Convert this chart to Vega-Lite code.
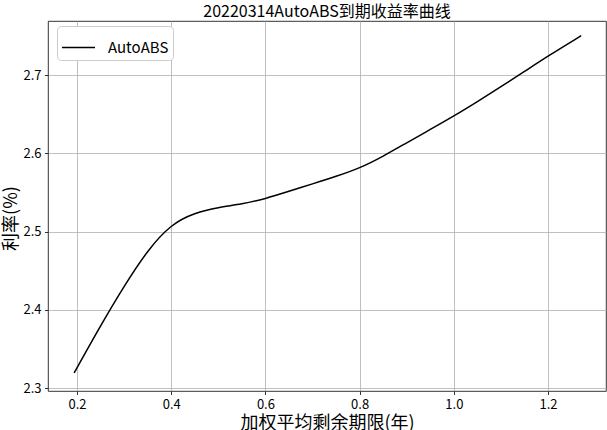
{
  "$schema": "https://vega.github.io/schema/vega-lite/v6.json",
  "width": 558,
  "height": 370,
  "autosize": "none",
  "padding": {"left": 48, "top": 21, "right": 1, "bottom": 39},
  "background": "white",
  "title": {
    "text": "20220314AutoABS到期收益率曲线",
    "font": "Noto Sans CJK SC",
    "fontSize": 16,
    "fontWeight": "normal",
    "color": "black",
    "anchor": "middle",
    "frame": "group",
    "baseline": "middle",
    "offset": 0,
    "dy": 7
  },
  "config": {
    "view": {"stroke": "black", "strokeWidth": 0.8},
    "axis": {
      "labelFont": "Noto Sans CJK SC",
      "titleFont": "Noto Sans CJK SC",
      "labelColor": "black",
      "titleColor": "black",
      "titleFontWeight": "normal",
      "labelFontSize": 13,
      "titleFontSize": 18,
      "gridColor": "#b0b0b0",
      "gridWidth": 0.8,
      "gridOpacity": 1,
      "domain": false,
      "tickColor": "black",
      "tickWidth": 0.8,
      "tickSize": 3.5,
      "labelPadding": 3.5
    }
  },
  "data": {
    "values": [
      {"x": 0.194, "y": 2.3195, "series": "AutoABS"},
      {"x": 0.25, "y": 2.380, "series": "AutoABS"},
      {"x": 0.3, "y": 2.4305, "series": "AutoABS"},
      {"x": 0.35, "y": 2.4765, "series": "AutoABS"},
      {"x": 0.4, "y": 2.5097, "series": "AutoABS"},
      {"x": 0.45, "y": 2.524, "series": "AutoABS"},
      {"x": 0.5, "y": 2.531, "series": "AutoABS"},
      {"x": 0.55, "y": 2.535, "series": "AutoABS"},
      {"x": 0.6, "y": 2.542, "series": "AutoABS"},
      {"x": 0.65, "y": 2.5515, "series": "AutoABS"},
      {"x": 0.7, "y": 2.561, "series": "AutoABS"},
      {"x": 0.75, "y": 2.5705, "series": "AutoABS"},
      {"x": 0.8, "y": 2.581, "series": "AutoABS"},
      {"x": 0.85, "y": 2.5962, "series": "AutoABS"},
      {"x": 0.9, "y": 2.6135, "series": "AutoABS"},
      {"x": 0.95, "y": 2.6305, "series": "AutoABS"},
      {"x": 1.0, "y": 2.6476, "series": "AutoABS"},
      {"x": 1.05, "y": 2.666, "series": "AutoABS"},
      {"x": 1.1, "y": 2.685, "series": "AutoABS"},
      {"x": 1.15, "y": 2.7045, "series": "AutoABS"},
      {"x": 1.2, "y": 2.7243, "series": "AutoABS"},
      {"x": 1.2704, "y": 2.7502, "series": "AutoABS"}
    ]
  },
  "mark": {"type": "line", "strokeWidth": 1.5, "interpolate": "basis"},
  "encoding": {
    "x": {
      "field": "x",
      "type": "quantitative",
      "scale": {"domain": [0.1385, 1.323], "nice": false, "zero": false},
      "axis": {
        "values": [0.2, 0.4, 0.6, 0.8, 1.0, 1.2],
        "format": ".1f",
        "title": "加权平均剩余期限(年)",
        "titleBaseline": "middle",
        "titleY": 32,
        "titlePadding": 0
      }
    },
    "y": {
      "field": "y",
      "type": "quantitative",
      "scale": {"domain": [2.2965, 2.769], "nice": false, "zero": false},
      "axis": {
        "values": [2.3, 2.4, 2.5, 2.6, 2.7],
        "format": ".1f",
        "title": "利率(%)",
        "titleAngle": 270,
        "titleAlign": "center",
        "titleBaseline": "middle",
        "titleX": -37,
        "titleY": 197
      }
    },
    "color": {
      "field": "series",
      "type": "nominal",
      "scale": {"range": ["black"]},
      "legend": {
        "title": null,
        "orient": "none",
        "legendX": 9,
        "legendY": 5,
        "fillColor": "white",
        "strokeColor": "#cccccc",
        "cornerRadius": 4,
        "padding": 4,
        "symbolType": "stroke",
        "symbolSize": 1089,
        "symbolStrokeWidth": 1.5,
        "labelFont": "Noto Sans CJK SC",
        "labelFontSize": 15,
        "labelColor": "black",
        "labelOffset": 12
      }
    }
  }
}
